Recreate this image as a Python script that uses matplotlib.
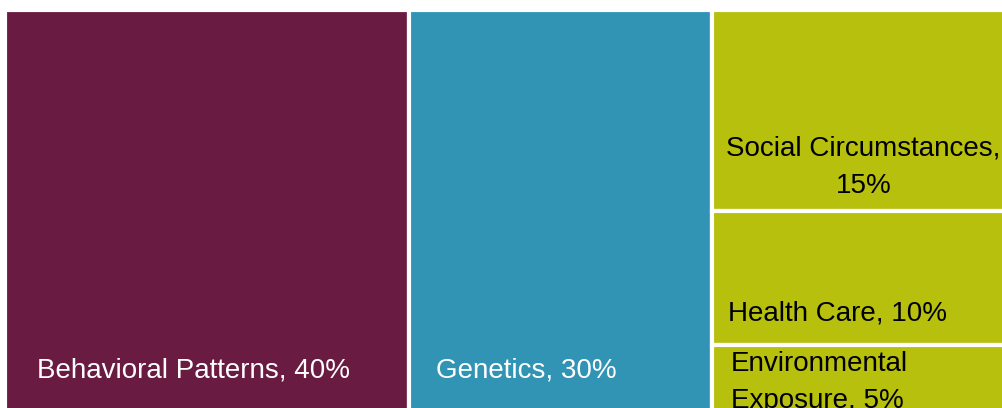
import matplotlib

matplotlib.use("Agg")
import matplotlib.pyplot as plt
from matplotlib.patches import Rectangle

CATEGORIES = ["Behavioral Patterns", "Genetics", "Social Circumstances", "Health Care", "Environmental\nExposure"]
SHARES = [40, 30, 15, 10, 5]
COLORS = ["#6A1B41", "#3194B4", "#B7C00D", "#B7C00D", "#B7C00D"]
TEXT_COLORS = ["white", "white", "black", "black", "black"]

plt.rcParams.update({"font.family": ["Liberation Sans", "DejaVu Sans"]})

fig = plt.figure(figsize=(10.03, 4.08), dpi=100)
# axes placed so that the treemap runs slightly past the right and bottom edges
ax = fig.add_axes([5 / 1003, -4 / 408, 1010 / 1003, 402 / 408])
ax.set_xlim(0, 100)
ax.set_ylim(100, 0)
ax.axis("off")

# layout: first two as full-height columns, rest stacked in the last column
rects = []
x = 0
for share in SHARES[:2]:
    rects.append((x, 0, share, 100))
    x += share
rest = sum(SHARES[2:])
y = 0
for share in SHARES[2:]:
    h = share / rest * 100
    rects.append((x, y, 100 - x, h))
    y += h

for (rx, ry, rw, rh), color in zip(rects, COLORS):
    ax.add_patch(Rectangle((rx, ry), rw, rh, facecolor=color, edgecolor="white", linewidth=3))

labels = [f"{c}, {s}%" for c, s in zip(CATEGORIES, SHARES)]
labels[2] = f"{CATEGORIES[2]},\n{SHARES[2]}%"

fs = 20
# label anchors: offsets in data units within each box
r = rects
ax.text(r[0][0] + 3.2, 89.6, labels[0], color=TEXT_COLORS[0], fontsize=fs, va="center", ha="left")
ax.text(r[1][0] + 2.7, 89.6, labels[1], color=TEXT_COLORS[1], fontsize=fs, va="center", ha="left")
ax.text(r[2][0] + r[2][2] / 2, 39.1, labels[2], color=TEXT_COLORS[2], fontsize=fs, va="center",
        ha="center", linespacing=1.55)
ax.text(r[3][0] + 1.6, 75.4, labels[3], color=TEXT_COLORS[3], fontsize=fs, va="center", ha="left")
ax.text(r[4][0] + 1.9, 92.7, labels[4], color=TEXT_COLORS[4], fontsize=fs, va="center", ha="left",
        linespacing=1.55)

fig.savefig("out.png", dpi=100, facecolor="white")
